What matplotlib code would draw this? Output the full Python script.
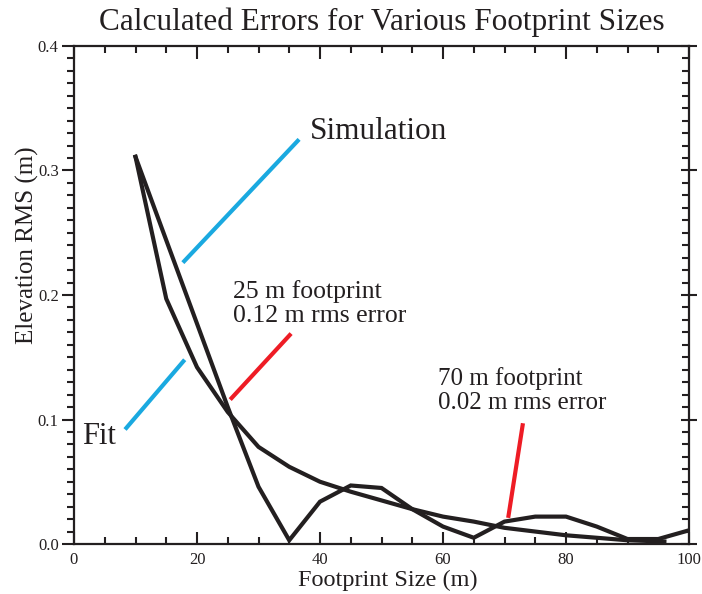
import numpy as np
import matplotlib
matplotlib.use("Agg")
import matplotlib.pyplot as plt
from matplotlib.ticker import MultipleLocator

plt.rcParams['font.family'] = ['Liberation Serif', 'DejaVu Serif']

# simulation : erreur rms pour chaque taille d'empreinte (pas de 5 m)
x_sim = [10, 15, 20, 25, 30, 35, 40, 45, 50, 55, 60, 65, 70, 75, 80, 85, 90, 95, 100]
rms_sim = [0.311, 0.244, 0.177, 0.110, 0.046, 0.003, 0.034, 0.047, 0.045, 0.028,
           0.014, 0.005, 0.018, 0.022, 0.022, 0.014, 0.004, 0.004, 0.011]

# fit
x_fit = [10, 15, 20, 25, 30, 35, 40, 45, 50, 55, 60, 65, 70, 75, 80, 85, 90, 96]
rms_fit = [0.311, 0.197, 0.142, 0.106, 0.078, 0.062, 0.050, 0.042, 0.035, 0.028,
           0.022, 0.018, 0.013, 0.010, 0.007, 0.005, 0.003, 0.002]

# traits des annotations (x, y)
ptr_sim = ([17.7, 36.6], [0.226, 0.325])
ptr_fit = ([8.3, 18.0], [0.092, 0.148])
ptr_25 = ([25.4, 35.3], [0.116, 0.169])
ptr_70 = ([70.6, 73.0], [0.021, 0.097])

blue = '#1aa9e0'
red = '#ee1c25'
ink = '#231f20'

fig = plt.figure(figsize=(7.02, 5.94), dpi=100)
ax = fig.add_axes([74/702, 1-544/594, 615/702, 498/594])

ax.plot(x_fit, rms_fit, color=ink, lw=3.0, solid_joinstyle='miter')
ax.plot(x_sim, rms_sim, color=ink, lw=3.0, solid_joinstyle='miter')

for px, py, c in [(ptr_sim[0], ptr_sim[1], blue), (ptr_fit[0], ptr_fit[1], blue),
                  (ptr_25[0], ptr_25[1], red), (ptr_70[0], ptr_70[1], red)]:
    ax.plot(px, py, color=c, lw=3.0, solid_capstyle='butt')

ax.text(38.4, 0.331, 'Simulation', fontsize=22.5, ha='left', va='center', color=ink)
ax.text(1.3, 0.086, 'Fit', fontsize=22, ha='left', va='center', color=ink)
ax.text(25.9, 0.193, '25 m footprint\n0.12 m rms error', fontsize=18.5, ha='left',
        va='center', linespacing=1.12, color=ink)
ax.text(59.2, 0.123, '70 m footprint\n0.02 m rms error', fontsize=18, ha='left',
        va='center', linespacing=1.12, color=ink)

ax.set_xlim(0, 100)
ax.set_ylim(0, 0.4)
ax.xaxis.set_major_locator(MultipleLocator(20))
ax.xaxis.set_minor_locator(MultipleLocator(5))
ax.yaxis.set_major_locator(MultipleLocator(0.1))
ax.yaxis.set_minor_locator(MultipleLocator(0.01))
ax.xaxis.set_major_formatter(lambda v, p: '%d' % v)
ax.yaxis.set_major_formatter(lambda v, p: '%.1f' % v)

for s in ax.spines.values():
    s.set_linewidth(1.6)
    s.set_color(ink)

ax.tick_params(axis='x', which='both', direction='in', top=True, labelsize=12,
               color=ink, labelcolor=ink, pad=6)
ax.tick_params(axis='x', which='major', length=9, width=1.5)
ax.tick_params(axis='x', which='minor', length=5, width=1.5)
ax.tick_params(axis='y', which='both', direction='out', labelsize=12, color=ink,
               labelcolor=ink, pad=2)
ax.tick_params(axis='y', which='major', length=9, width=1.5)
ax.tick_params(axis='y', which='minor', length=5, width=1.5)

# ticks du côté droit, vers l'intérieur
ax2 = ax.twinx()
ax2.set_ylim(0, 0.4)
ax2.yaxis.set_major_locator(MultipleLocator(0.1))
ax2.yaxis.set_minor_locator(MultipleLocator(0.01))
ax2.tick_params(axis='y', which='major', direction='inout', length=12, width=1.5,
                color=ink, labelright=False)
ax2.tick_params(axis='y', which='minor', direction='in', length=5, width=1.5,
                color=ink, labelright=False)
for s in ax2.spines.values():
    s.set_visible(False)

ax.set_xlabel('Footprint Size (m)', fontsize=17.5, color=ink, va='baseline')
ax.set_ylabel('Elevation RMS (m)', fontsize=18, color=ink)
ax.xaxis.set_label_coords(0.51, -0.085)
ax.yaxis.set_label_coords(-0.057, 0.60)

fig.text(382/702, 1-22/594, 'Calculated Errors for Various Footprint Sizes',
         fontsize=22.5, ha='center', va='center', color=ink)

fig.savefig('out.png', dpi=100)
